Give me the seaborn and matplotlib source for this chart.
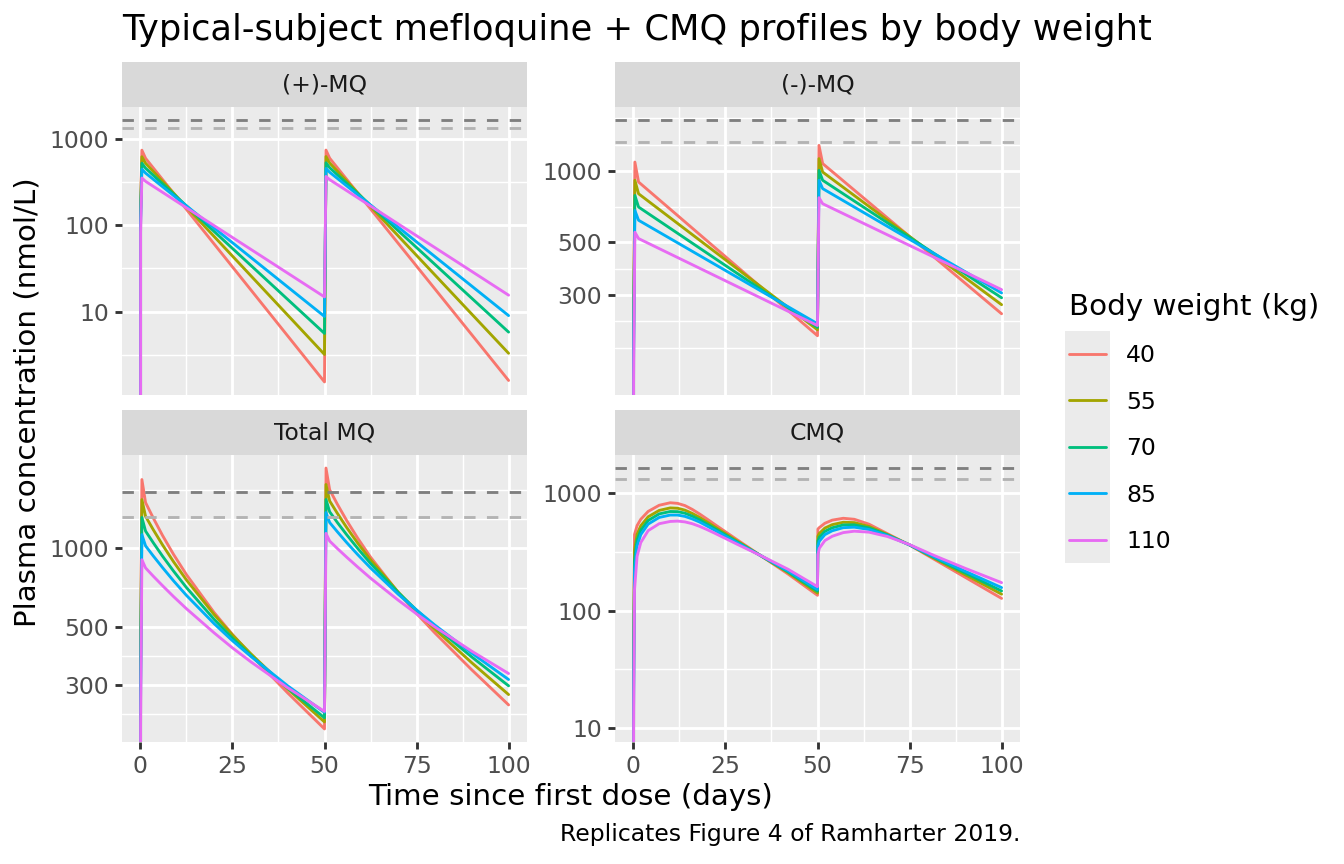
import numpy as np
import pandas as pd
import matplotlib
matplotlib.use("Agg")
import matplotlib.pyplot as plt
import seaborn as sns
from matplotlib.lines import Line2D
from matplotlib.patches import Rectangle
from matplotlib.ticker import NullFormatter

# ---------------- data ----------------
weights = ["40", "55", "70", "85", "110"]
colors = ["#F8766D", "#A3A500", "#00BF7D", "#00B0F6", "#E76BF3"]

t_enantiomer = [0, 0.05, 0.4, 1.4, 50, 50.4, 51.4, 100]
plus_mq = [
    [0, 172, 736, 593, 1.54, 738, 595, 1.6],
    [0, 145, 618, 520, 3.2, 621, 523, 3.3],
    [0, 122, 520, 456, 5.6, 526, 462, 5.8],
    [0, 104, 444, 400, 8.8, 453, 409, 9.0],
    [0, 82, 351, 321, 14.8, 366, 336, 15.5],
]
minus_mq = [
    [0, 255, 1091, 899, 202, 1283, 1075, 250],
    [0, 214, 914, 802, 214, 1128, 990, 273],
    [0, 185, 789, 705, 219, 1007, 914, 292],
    [0, 160, 682, 620, 227, 914, 843, 306],
    [0, 129, 552, 519, 223, 772, 728, 316],
]

t_total = [0, 0.05, 0.4, 1.4, 3.5, 6, 9, 12.5, 20, 25, 30, 40, 50,
           50.4, 51.4, 53.5, 56, 59, 62.5, 70, 75, 80, 90, 100]
total_mq = [
    [0, 427, 1827, 1492, 1302, 1118, 946, 792, 568, 468, 391, 280, 204,
     2021, 1670, 1470, 1276, 1092, 924, 677, 563, 474, 343, 252],
    [0, 359, 1532, 1322, 1175, 1029, 887, 756, 558, 466, 395, 290, 217,
     1749, 1513, 1357, 1200, 1046, 902, 680, 574, 490, 365, 276],
    [0, 307, 1309, 1161, 1048, 932, 817, 707, 535, 453, 389, 292, 225,
     1533, 1376, 1252, 1126, 998, 874, 677, 580, 502, 384, 298],
    [0, 264, 1126, 1020, 933, 843, 750, 660, 515, 443, 386, 298, 236,
     1367, 1252, 1154, 1051, 945, 840, 667, 580, 508, 397, 315],
    [0, 211, 903, 840, 781, 719, 653, 587, 475, 416, 368, 293, 238,
     1138, 1064, 996, 924, 847, 768, 633, 561, 500, 404, 332],
]

t_cmq = [0, 0.05, 0.3, 1, 2, 4, 7, 10, 12, 14, 16, 18, 20, 22, 28, 35, 42, 50,
         50.1, 50.5, 52, 54, 57, 60, 64, 69, 75, 82, 90, 100]
cmq = [
    [0, 60, 445, 530, 600, 700, 790, 830, 820, 785, 728, 665, 603, 545, 405,
     288, 205, 135, 495, 510, 555, 590, 612, 600, 545, 452, 362, 270, 193, 127],
    [0, 35, 328, 448, 528, 630, 714, 750, 745, 718, 673, 622, 569, 519, 395,
     288, 211, 141, 430, 455, 505, 540, 566, 562, 521, 445, 363, 276, 203, 138],
    [0, 22, 267, 399, 484, 586, 667, 699, 697, 676, 638, 594, 547, 502, 388,
     289, 214, 146, 392, 422, 473, 508, 537, 538, 506, 441, 363, 280, 210, 147],
    [0, 15, 217, 356, 444, 546, 622, 652, 652, 635, 604, 568, 526, 486, 381,
     289, 218, 151, 356, 390, 444, 479, 509, 514, 491, 436, 363, 284, 217, 157],
    [0, 9.8, 150, 290, 380, 480, 550, 575, 579, 570, 550, 522, 490, 458, 370,
     290, 225, 160, 300, 340, 395, 430, 462, 475, 466, 428, 365, 292, 230, 173],
]

panel_titles = ["(+)-MQ", "(-)-MQ", "Total MQ", "CMQ"]
panel_times = [t_enantiomer, t_enantiomer, t_total, t_cmq]
panel_values = [plus_mq, minus_mq, total_mq, cmq]
y_breaks = [[10, 100, 1000], [300, 500, 1000], [300, 500, 1000], [10, 100, 1000]]
x_breaks = [0, 25, 50, 75, 100]
hline_values = [1640, 1320]
hline_colors = ["#7F7F7F", "#B3B3B3"]

title = "Typical-subject mefloquine + CMQ profiles by body weight"
x_title = "Time since first dose (days)"
y_title = "Plasma concentration (nmol/L)"
legend_title = "Body weight (kg)"
caption = "Replicates Figure 4 of Ramharter 2019."

# ---------------- styling ----------------
W, H = 1344, 864
S = 1.92  # ggplot pt -> pt at 100 dpi for a 192 dpi render
LW = 2.05
FS_TICK = 8.8 * S
FS_AXT = 11 * S
FS_TITLE = 13.2 * S

sns.set_theme(style="darkgrid", rc={
    "axes.facecolor": "#EBEBEB",
    "grid.color": "white",
    "axes.edgecolor": "none",
    "text.color": "black",
})
plt.rcParams["font.family"] = ["DejaVu Sans"]

fig = plt.figure(figsize=(W / 100, H / 100), dpi=100)
fig.patch.set_facecolor("white")

# panel rectangles in pixels (left, top, right, bottom)
panel_px = [(122, 107, 527, 395), (615, 107, 1020, 395),
            (122, 455, 527, 742), (615, 455, 1020, 742)]
STRIP = 45


def minor_breaks(majors, lo, hi):
    b = list(majors)
    bd = b[1] - b[0]
    if lo < b[0]:
        b = [b[0] - bd] + b
    if hi > b[-1]:
        b = b + [b[-1] + bd]
    out = []
    for a, c in zip(b[:-1], b[1:]):
        out += [a, (a + c) / 2]
    out.append(b[-1])
    return [v for v in out if lo <= v <= hi and
            not any(abs(v - m) < 1e-9 for m in majors)]


palette = dict(zip(weights, colors))

for i, (ttl, tt, vals) in enumerate(zip(panel_titles, panel_times, panel_values)):
    l, t, r, b = panel_px[i]
    ax = fig.add_axes([l / W, 1 - b / H, (r - l) / W, (b - t) / H])
    df = pd.DataFrame({
        "time": np.tile(tt, len(weights)),
        "conc": np.concatenate([np.asarray(v, float) for v in vals]),
        "weight": np.repeat(weights, len(tt)),
    })
    sns.lineplot(data=df, x="time", y="conc", hue="weight", hue_order=weights,
                 palette=palette, estimator=None, sort=False, legend=False,
                 lw=LW, ax=ax, zorder=3)
    for hv, hc in zip(hline_values, hline_colors):
        ax.axhline(hv, color=hc, lw=LW, ls=(0, (4, 4)), zorder=4)
    ax.set_yscale("log")

    # y limits like ggplot (5 % expansion on the log scale)
    pos = df["conc"][df["conc"] > 0].tolist() + hline_values
    lo, hi = np.log10(min(pos)), np.log10(max(pos))
    rg = hi - lo
    ylo, yhi = lo - 0.05 * rg, hi + 0.05 * rg
    ax.set_ylim(10 ** ylo, 10 ** yhi)
    ax.set_xlim(-5, 105)

    yb = y_breaks[i]
    ax.set_yticks(yb, labels=[str(v) for v in yb])
    ymin = minor_breaks(list(np.log10(yb)), ylo, yhi)
    ax.set_yticks([10 ** v for v in ymin], minor=True)
    ax.yaxis.set_minor_formatter(NullFormatter())
    ax.set_xticks(x_breaks, labels=[str(v) for v in x_breaks])
    ax.set_xticks(minor_breaks(x_breaks, -5, 105), minor=True)

    ax.grid(True, which="major", color="white", lw=LW)
    ax.grid(True, which="minor", color="white", lw=LW / 2)
    ax.set_axisbelow(True)
    for sp in ax.spines.values():
        sp.set_visible(False)
    ax.tick_params(which="major", length=2.75 * S, width=LW, color="#333333",
                   labelsize=FS_TICK, labelcolor="#4D4D4D", pad=2.2 * S,
                   left=True, bottom=True)
    ax.tick_params(which="minor", length=0)
    if i < 2:
        ax.tick_params(axis="x", which="major", bottom=False, labelbottom=False)
    ax.set_xlabel("")
    ax.set_ylabel("")

    # facet strip
    sax = fig.add_axes([l / W, 1 - t / H, (r - l) / W, STRIP / H])
    sax.set_facecolor("#D9D9D9")
    sax.set_xticks([])
    sax.set_yticks([])
    sax.grid(False)
    for sp in sax.spines.values():
        sp.set_visible(False)
    sax.text(0.5, 0.5, ttl, ha="center", va="center", fontsize=FS_TICK,
             color="#1A1A1A", transform=sax.transAxes)

# titles
fig.text(122 / W, 1 - 30 / H, title, fontsize=FS_TITLE, ha="left", va="center",
         color="black")
fig.text(571 / W, 1 - 797 / H, x_title, fontsize=FS_AXT, ha="center",
         va="center", color="black")
fig.text(28 / W, 1 - 402 / H, y_title, fontsize=FS_AXT, ha="center",
         va="center", rotation=90, color="black")
fig.text(1020 / W, 1 - 834 / H, caption, fontsize=FS_TICK, ha="right",
         va="center", color="black")

# legend
handles = [Line2D([], [], color=c, lw=LW) for c in colors]
leg = fig.legend(handles, weights, title=legend_title, loc="upper left",
                 bbox_to_anchor=(1057 / W, 1 - 281 / H), frameon=False,
                 fontsize=FS_TICK, title_fontsize=FS_AXT, handlelength=1.6,
                 handletextpad=0.85, labelspacing=1.0, borderpad=0,
                 alignment="left", labelcolor="black")
leg.get_title().set_color("black")
fig.canvas.draw()
rend = fig.canvas.get_renderer()
exts = [h.get_window_extent(rend) for h in leg.legend_handles]
x0 = min(e.x0 for e in exts) - 4
x1 = max(e.x1 for e in exts) + 4
cys = [(e.y0 + e.y1) / 2 for e in exts]
step = abs(cys[0] - cys[1])
y_top = max(cys) + step / 2
y_bot = min(cys) - step / 2
rect = Rectangle((x0 / W, y_bot / H), (x1 - x0) / W, (y_top - y_bot) / H,
                 transform=fig.transFigure, facecolor="#EBEBEB",
                 edgecolor="none", zorder=1)
fig.add_artist(rect)
leg.set_zorder(5)

fig.savefig("out.png", dpi=100)
